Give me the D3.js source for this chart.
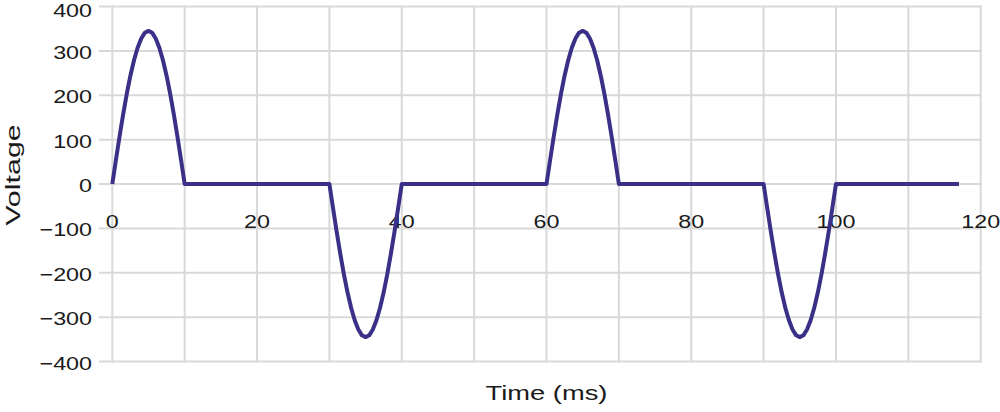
<!DOCTYPE html>
<html>
<head>
<meta charset="utf-8">
<script src="https://cdn.jsdelivr.net/npm/d3@7"></script>
<style>
  html, body { margin: 0; padding: 0; background: #fff; }
  svg { display: block; }
  text { font-family: "Liberation Sans", Arial, Helvetica, sans-serif; fill: #1a1a1a; }
</style>
</head>
<body>
<svg id="chart" width="1000" height="412"></svg>
<script>
// ---- data ----
const xTickLabels = [0, 20, 40, 60, 80, 100, 120];
const xGridValues = [0, 10, 20, 30, 40, 50, 60, 70, 80, 90, 100, 110, 120];
const yTickLabels = [400, 300, 200, 100, 0, -100, -200, -300, -400];

const pulsePos1 = [[0,0],[0.5,54],[1,107],[1.5,157],[2,203],[2.5,244],[3,279],[3.5,307],[4,328],[4.5,341],[5,345],[5.5,341],[6,328],[6.5,307],[7,279],[7.5,244],[8,203],[8.5,157],[9,107],[9.5,54],[10,0]];
const pulseNeg1 = [[30,0],[30.5,-54],[31,-107],[31.5,-157],[32,-203],[32.5,-244],[33,-279],[33.5,-307],[34,-328],[34.5,-341],[35,-345],[35.5,-341],[36,-328],[36.5,-307],[37,-279],[37.5,-244],[38,-203],[38.5,-157],[39,-107],[39.5,-54],[40,0]];
const pulsePos2 = [[60,0],[60.5,54],[61,107],[61.5,157],[62,203],[62.5,244],[63,279],[63.5,307],[64,328],[64.5,341],[65,345],[65.5,341],[66,328],[66.5,307],[67,279],[67.5,244],[68,203],[68.5,157],[69,107],[69.5,54],[70,0]];
const pulseNeg2 = [[90,0],[90.5,-54],[91,-107],[91.5,-157],[92,-203],[92.5,-244],[93,-279],[93.5,-307],[94,-328],[94.5,-341],[95,-345],[95.5,-341],[96,-328],[96.5,-307],[97,-279],[97.5,-244],[98,-203],[98.5,-157],[99,-107],[99.5,-54],[100,0]];
const tail = [[117,0]];

const series = [].concat(pulsePos1, pulseNeg1, pulsePos2, pulseNeg2, tail);

// ---- layout ----
const svg = d3.select("#chart");
const x = d3.scaleLinear().domain([0, 120]).range([112.3, 980.7]);
const y = d3.scaleLinear().domain([-400, 400]).range([361.5, 6.5]);
const gridLeft = 99;
const gridRight = x(120) + 1;

const gridColor = "#d9d9d9";

// horizontal grid
svg.append("g").selectAll("line").data(yTickLabels).join("line")
  .attr("x1", gridLeft).attr("x2", gridRight)
  .attr("y1", d => y(d)).attr("y2", d => y(d))
  .attr("stroke", gridColor).attr("stroke-width", 2);

// vertical grid
svg.append("g").selectAll("line").data(xGridValues).join("line")
  .attr("x1", d => x(d)).attr("x2", d => x(d))
  .attr("y1", y(400) - 1).attr("y2", y(-400) + 1)
  .attr("stroke", gridColor).attr("stroke-width", 2);

const fmt = d => (d < 0 ? "\u2212" + Math.abs(d) : String(d));

// y tick labels
svg.append("g").selectAll("text").data(yTickLabels).join("text")
  .attr("text-anchor", "end")
  .attr("font-size", 18.5)
  .attr("transform", d => `translate(92,${Math.max(y(d) + 8, 17)}) scale(1.26,1)`)
  .text(fmt);

// x tick labels (just below the zero line)
svg.append("g").selectAll("text").data(xTickLabels).join("text")
  .attr("text-anchor", "middle")
  .attr("font-size", 18.5)
  .attr("transform", d => `translate(${x(d)},228) scale(1.26,1)`)
  .text(fmt);

// axis titles
svg.append("text")
  .attr("text-anchor", "middle")
  .attr("font-size", 21)
  .attr("transform", `translate(${x(60)},400) scale(1.3,1)`)
  .text("Time (ms)");

svg.append("text")
  .attr("text-anchor", "middle")
  .attr("font-size", 21)
  .attr("transform", `translate(19.5,175) rotate(-90) scale(1.45,1)`)
  .text("Voltage");

// line
const line = d3.line().x(d => x(d[0])).y(d => y(d[1])).curve(d3.curveLinear);
svg.append("path")
  .datum(series)
  .attr("d", line)
  .attr("fill", "none")
  .attr("stroke", "#3a3087")
  .attr("stroke-width", 4)
  .attr("stroke-linejoin", "round")
  .attr("stroke-linecap", "butt");
</script>
</body>
</html>
